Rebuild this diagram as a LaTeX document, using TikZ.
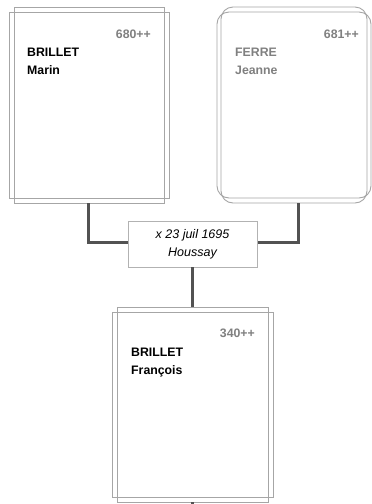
\documentclass[tikz,border=0pt]{standalone}
\usepackage{fontspec}
\setmainfont{Liberation Sans}
\begin{document}
\begin{tikzpicture}[x=1pt,y=-1pt,
  frame/.style={draw=black!35, line width=0.9pt, inner sep=0pt, fill=none},
  rframe/.style={frame, rounded corners=12pt},
  marbox/.style={draw=black!30, line width=0.9pt, fill=white, minimum width=129pt, minimum height=46pt, inner sep=0pt},
  link/.style={draw=black!68, line width=3pt},
  pnum/.style={anchor=base east, inner sep=0pt, text=black!50, font=\fontsize{12.3}{18}\selectfont\bfseries},
  pname/.style={anchor=base west, inner sep=0pt, font=\fontsize{12.3}{18}\selectfont\bfseries},
  mtext/.style={align=center, font=\fontsize{12.5}{18}\selectfont\itshape}
]
\useasboundingbox (0,0) rectangle (372,504);
\fill[white] (0,0) rectangle (372,504);
% father
\node[frame, minimum width=160pt, minimum height=186pt] (fa) at (89,105) {};
\node[frame, minimum width=150pt, minimum height=196pt] (fb) at (89,105) {};
\node[pnum] (fnum) at (151,38) {680++};
\node[pname] (fn1) at (27,56) {BRILLET};
\node[pname] (fn2) at (27,74) {Marin};
% mother
\node[rframe, minimum width=154pt, minimum height=186pt] (ma) at (294,105) {};
\node[rframe, minimum width=146pt, minimum height=196pt] (mb) at (294,105) {};
\node[pnum] (mnum) at (359,38) {681++};
\node[pname, text=black!50] (mn1) at (235,56) {FERRE};
\node[pname, text=black!50] (mn2) at (235,74) {Jeanne};
% child
\node[frame, minimum width=161pt, minimum height=185pt] (ca) at (192.5,404.5) {};
\node[frame, minimum width=151pt, minimum height=195pt] (cb) at (192.5,404.5) {};
\node[pnum] (cnum) at (255,337) {340++};
\node[pname] (cn1) at (131,356) {BRILLET};
\node[pname] (cn2) at (131,374) {François};
% marriage
\coordinate (lj) at (128,242);
\coordinate (rj) at (257,242);
\draw[link] (88,203) |- (lj);
\draw[link] (298,203) |- (rj);
\node[marbox] (mar) at (192.5,244) {};
\node[mtext] (mt) at (192.5,244) {x 23 juil 1695\\Houssay};
\draw[link] (mar.south) -- (cb.north);
\coordinate (bt) at (192.5,506);
\draw[link] (cb.south) -- (bt);
\end{tikzpicture}
\end{document}
